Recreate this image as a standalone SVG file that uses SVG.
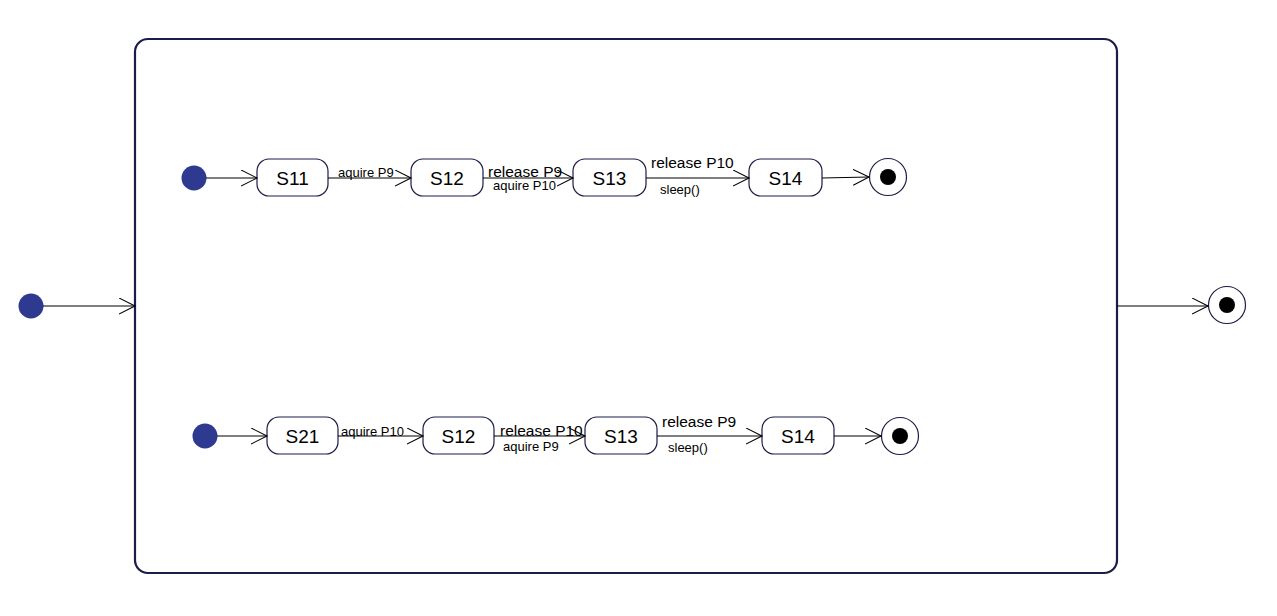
<svg xmlns="http://www.w3.org/2000/svg" width="1277" height="616" viewBox="0 0 1277 616">
<defs>
<style>
.st{fill:#fff;stroke:#1c1c48;stroke-width:1.2}
.name{font-family:"Liberation Sans",Arial,sans-serif;font-size:19px;fill:#000;text-anchor:middle}
.lbl{font-family:"Liberation Sans",Arial,sans-serif;font-size:13px;fill:#000}
.lbl2{font-family:"Liberation Sans",Arial,sans-serif;font-size:15.5px;fill:#000}
.init{fill:#2e3a8f}
.fo{fill:#fff;stroke:#1c1c48;stroke-width:1.2}
.fi{fill:#000}
.c{fill:none;stroke:#000;stroke-width:1.1}
</style>
<marker id="arr" markerWidth="18" markerHeight="18" refX="16" refY="8" orient="auto" markerUnits="userSpaceOnUse">
<path d="M0,0 L16,8 L0,16" fill="none" stroke="#000" stroke-width="1.1"/>
</marker>
</defs>
<rect width="1277" height="616" fill="#fff"/>
<g id="composite"><rect x="135" y="39" width="982" height="534" rx="13" fill="#fff" stroke="#1c1c48" stroke-width="2.2"/></g>
<g id="init0"><circle cx="31" cy="306" r="12.5" class="init"/></g>
<g id="final0"><circle cx="1227" cy="305" r="18.5" class="fo"/><circle cx="1227" cy="305" r="8" class="fi"/></g>
<g id="init1"><circle cx="194" cy="178" r="12.5" class="init"/></g>
<g id="s11"><rect x="257" y="159" width="71" height="37" rx="12" class="st"/><text x="292.5" y="184.5" class="name">S11</text></g>
<g id="s12a"><rect x="411" y="159" width="72" height="37" rx="12" class="st"/><text x="447" y="184.5" class="name">S12</text></g>
<g id="s13a"><rect x="573" y="159" width="73" height="37" rx="12" class="st"/><text x="609.5" y="184.5" class="name">S13</text></g>
<g id="s14a"><rect x="749" y="159" width="73" height="37" rx="12" class="st"/><text x="785.5" y="184.5" class="name">S14</text></g>
<g id="final1"><circle cx="888" cy="177" r="18.5" class="fo"/><circle cx="888" cy="177" r="8" class="fi"/></g>
<g id="init2"><circle cx="205" cy="436" r="12.5" class="init"/></g>
<g id="s21"><rect x="267" y="417" width="71" height="37" rx="12" class="st"/><text x="302.5" y="442.5" class="name">S21</text></g>
<g id="s12b"><rect x="423" y="417" width="71" height="37" rx="12" class="st"/><text x="458.5" y="442.5" class="name">S12</text></g>
<g id="s13b"><rect x="585" y="417" width="72" height="37" rx="12" class="st"/><text x="621" y="442.5" class="name">S13</text></g>
<g id="s14b"><rect x="762" y="417" width="72" height="37" rx="12" class="st"/><text x="798" y="442.5" class="name">S14</text></g>
<g id="final2"><circle cx="900" cy="436" r="18.5" class="fo"/><circle cx="900" cy="436" r="8" class="fi"/></g>
<g id="connectors">
<line x1="43" y1="306" x2="135" y2="306" class="c" marker-end="url(#arr)"/>
<line x1="1117" y1="306" x2="1208" y2="306" class="c" marker-end="url(#arr)"/>
<line x1="206" y1="178" x2="257" y2="178" class="c" marker-end="url(#arr)"/>
<line x1="328" y1="178" x2="411" y2="178" class="c" marker-end="url(#arr)"/>
<line x1="483" y1="178" x2="573" y2="178" class="c" marker-end="url(#arr)"/>
<line x1="646" y1="178" x2="749" y2="178" class="c" marker-end="url(#arr)"/>
<line x1="822" y1="178" x2="869" y2="177" class="c" marker-end="url(#arr)"/>
<line x1="217" y1="436" x2="267" y2="436" class="c" marker-end="url(#arr)"/>
<line x1="338" y1="436" x2="423" y2="436" class="c" marker-end="url(#arr)"/>
<line x1="494" y1="436" x2="585" y2="436" class="c" marker-end="url(#arr)"/>
<line x1="657" y1="436" x2="762" y2="436" class="c" marker-end="url(#arr)"/>
<line x1="834" y1="436" x2="881" y2="436" class="c" marker-end="url(#arr)"/>
<text x="338" y="177" class="lbl">aquire P9</text>
<text x="488" y="177" class="lbl2">release P9</text>
<text x="493" y="190" class="lbl">aquire P10</text>
<text x="651" y="168" class="lbl2">release P10</text>
<text x="660" y="194" class="lbl">sleep()</text>
<text x="341" y="436" class="lbl">aquire P10</text>
<text x="500" y="436" class="lbl2">release P10</text>
<text x="503" y="451" class="lbl">aquire P9</text>
<text x="662" y="427" class="lbl2">release P9</text>
<text x="668" y="452" class="lbl">sleep()</text>
</g>
</svg>
